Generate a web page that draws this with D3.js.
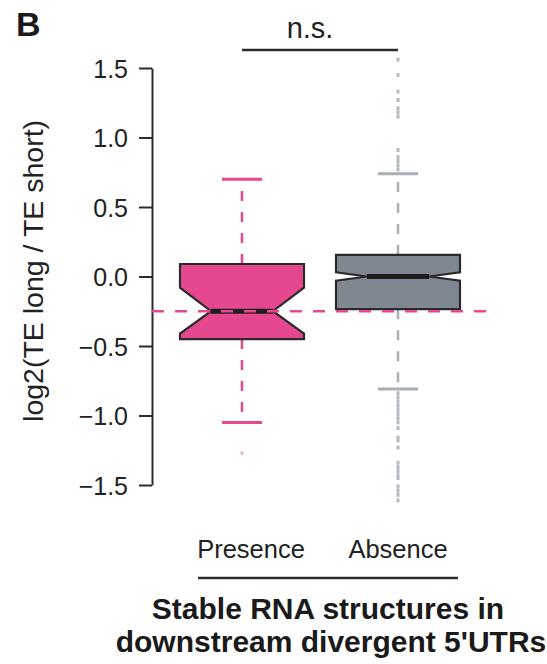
<!DOCTYPE html>
<html>
<head>
<meta charset="utf-8">
<script src="https://cdn.jsdelivr.net/npm/d3@7"></script>
<style>
  body { margin: 0; background: #fff; }
  text { font-family: "Liberation Sans", Arial, sans-serif; }
</style>
</head>
<body>
<svg width="547" height="664"></svg>
<script>
// groups and box stats
var groups = ["Presence", "Absence"];
var q1 = [-0.45, -0.235];
var median = [-0.25, 0.0];
var q3 = [0.09, 0.155];
var notchLo = [-0.41, -0.03];
var notchHi = [-0.08, 0.03];
var whiskLo = [-1.05, -0.81];
var whiskHi = [0.70, 0.74];
var outliersPresence = [-1.27];
var outliersAbsence = [1.56, 1.45, 1.33, 1.27, 1.21, 1.18, 1.15, 0.91, 0.86, 0.83, 0.80, 0.77,
  -0.84, -0.87, -0.90, -0.93, -0.96, -0.99, -1.02, -1.05, -1.09, -1.16, -1.18, -1.23,
  -1.34, -1.37, -1.40, -1.43, -1.45, -1.51, -1.54, -1.57, -1.61];
var refLine = -0.25;
var yTicks = [-1.5, -1.0, -0.5, 0.0, 0.5, 1.0, 1.5];

var pink = "#e6488f", grayFill = "#7f8790", grayLine = "#a7aeb6", dark = "#2b2b2b";
var colors = [pink, grayFill];
var lineColors = [pink, grayLine];

var svg = d3.select("svg");

var y = d3.scaleLinear().domain([-1.5, 1.5]).range([485, 68]);
var x = d3.scalePoint().domain(groups).range([242, 398]);
var halfW = 62, notchW = 31, capW = 20;

// panel letter
svg.append("text").attr("x", 16).attr("y", 36)
  .style("font-size", "34px").style("font-weight", "bold").attr("fill", "#1a1a1a").text("B");

// y axis
var axis = d3.axisLeft(y).tickValues(yTicks).tickSize(13).tickSizeOuter(0).tickPadding(11)
  .tickFormat(function(d) { return d3.format(".1f")(d).replace("-", "\u2212"); });
var gAxis = svg.append("g").attr("transform", "translate(152,0)").call(axis);
gAxis.select(".domain").attr("stroke", dark).attr("stroke-width", 2);
gAxis.selectAll(".tick line").attr("stroke", dark).attr("stroke-width", 2);
gAxis.selectAll(".tick text").style("font-size", "25px").attr("fill", "#222")
  .attr("dy", "0.36em").style("font-family", "'Liberation Sans', Arial, sans-serif");

svg.append("text")
  .attr("transform", "translate(43," + y(0.04) + ") rotate(-90)")
  .attr("text-anchor", "middle").style("font-size", "28.5px").attr("fill", "#222")
  .text("log2(TE long / TE short)");

// whiskers
groups.forEach(function(g, i) {
  var cx = x(g);
  var wg = svg.append("g");
  wg.append("line").attr("x1", cx).attr("x2", cx).attr("y1", y(q3[i])).attr("y2", y(whiskHi[i]))
    .attr("stroke", lineColors[i]).attr("stroke-width", 2.5).attr("stroke-dasharray", "10,11");
  wg.append("line").attr("x1", cx).attr("x2", cx).attr("y1", y(q1[i])).attr("y2", y(whiskLo[i]))
    .attr("stroke", lineColors[i]).attr("stroke-width", 2.5).attr("stroke-dasharray", "10,11");
  [whiskHi[i], whiskLo[i]].forEach(function(v) {
    wg.append("line").attr("x1", cx - capW).attr("x2", cx + capW).attr("y1", y(v)).attr("y2", y(v))
      .attr("stroke", lineColors[i]).attr("stroke-width", 3);
  });
});

// outliers
svg.selectAll(".outP").data(outliersPresence).enter().append("rect")
  .attr("x", x("Presence") - 1.5).attr("y", function(d) { return y(d) - 1.5; })
  .attr("width", 3).attr("height", 3).attr("fill", "#f3a3c6");
svg.selectAll(".outA").data(outliersAbsence).enter().append("rect")
  .attr("x", x("Absence") - 1.5).attr("y", function(d) { return y(d) - 2; })
  .attr("width", 3).attr("height", 4).attr("fill", "#b4bbc2");

// notched boxes
groups.forEach(function(g, i) {
  var cx = x(g), x0 = cx - halfW, x1 = cx + halfW;
  var p = d3.path();
  p.moveTo(x0, y(q3[i]));
  p.lineTo(x1, y(q3[i]));
  p.lineTo(x1, y(notchHi[i]));
  p.lineTo(cx + notchW, y(median[i]));
  p.lineTo(x1, y(notchLo[i]));
  p.lineTo(x1, y(q1[i]));
  p.lineTo(x0, y(q1[i]));
  p.lineTo(x0, y(notchLo[i]));
  p.lineTo(cx - notchW, y(median[i]));
  p.lineTo(x0, y(notchHi[i]));
  p.closePath();
  svg.append("path").attr("d", p.toString()).attr("fill", colors[i])
    .attr("stroke", dark).attr("stroke-width", 2.2).attr("stroke-linejoin", "miter");
  svg.append("line").attr("x1", cx - notchW).attr("x2", cx + notchW)
    .attr("y1", y(median[i])).attr("y2", y(median[i]))
    .attr("stroke", "#1e1e1e").attr("stroke-width", 5);
});

// reference line at presence median
svg.append("line").attr("x1", 152).attr("x2", 490).attr("y1", y(refLine)).attr("y2", y(refLine))
  .attr("stroke", pink).attr("stroke-width", 2.5).attr("stroke-dasharray", "12,11");

// significance bracket
svg.append("line").attr("x1", x("Presence")).attr("x2", x("Absence")).attr("y1", 50).attr("y2", 50)
  .attr("stroke", dark).attr("stroke-width", 2.5);
svg.append("text").attr("x", 310).attr("y", 38).attr("text-anchor", "middle")
  .style("font-size", "29px").attr("fill", "#222").text("n.s.");

// group labels
svg.selectAll(".glab").data(groups).enter().append("text")
  .attr("x", function(d) { return x(d) + (d === "Presence" ? 9 : 0); })
  .attr("y", 558).attr("text-anchor", "middle")
  .style("font-size", "25.5px").attr("fill", "#222").text(function(d) { return d; });

svg.append("line").attr("x1", 198).attr("x2", 458).attr("y1", 578).attr("y2", 578)
  .attr("stroke", dark).attr("stroke-width", 2.5);

svg.append("text").attr("x", 328).attr("y", 619).attr("text-anchor", "middle")
  .style("font-size", "30px").style("font-weight", "bold").attr("fill", "#1a1a1a")
  .text("Stable RNA structures in");
svg.append("text").attr("x", 331).attr("y", 652).attr("text-anchor", "middle")
  .style("font-size", "30px").style("font-weight", "bold").attr("fill", "#1a1a1a")
  .text("downstream divergent 5'UTRs");
</script>
</body>
</html>
